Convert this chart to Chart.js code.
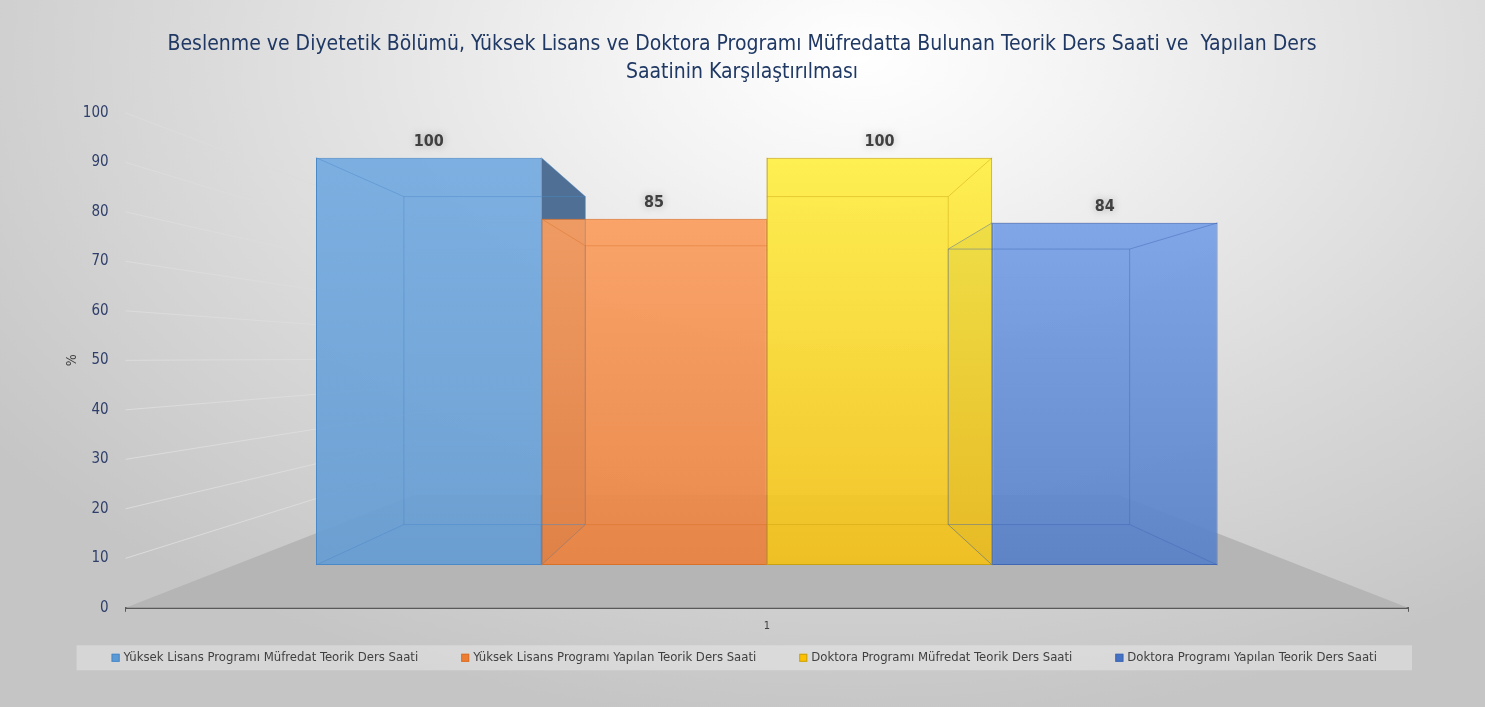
<!DOCTYPE html>
<html lang="tr">
<head>
<meta charset="utf-8">
<title>Teorik Ders Saati Karşılaştırması</title>
<script src="https://cdn.jsdelivr.net/npm/chart.js@4.4.1/dist/chart.umd.min.js"></script>
<style>
  html, body { margin: 0; padding: 0; }
  body {
    width: 1485px;
    height: 707px;
    overflow: hidden;
    background: radial-gradient(ellipse 72% 95% at 58% 8%, #ffffff 0%, #f3f3f3 22%, #dadada 62%, #c5c5c5 100%);
  }
  #kutu { position: relative; width: 1485px; height: 707px; }
</style>
</head>
<body>
<div id="kutu"><canvas id="grafik"></canvas></div>
<script>
// veriler
const kategoriler = ['1'];
const seriAdlari = [
  'Yüksek Lisans Programı Müfredat Teorik Ders Saati',
  'Yüksek Lisans Programı Yapılan Teorik Ders Saati',
  'Doktora Programı Müfredat Teorik Ders Saati',
  'Doktora Programı Yapılan Teorik Ders Saati'
];
const degerler = [100, 85, 100, 84];
const yEtiketleri = [0, 10, 20, 30, 40, 50, 60, 70, 80, 90, 100];
const baslik = [
  'Beslenme ve Diyetetik Bölümü, Yüksek Lisans ve Doktora Programı Müfredatta Bulunan Teorik Ders Saati ve  Yapılan Ders',
  'Saatinin Karşılaştırılması'
];

// stiller
const ustRenk = ['rgba(118,172,226,0.93)', 'rgba(255,166,104,0.93)', 'rgba(255,243,74,0.93)', 'rgba(130,170,240,0.93)'];
const altRenk = ['rgba(102,156,210,0.93)', 'rgba(232,128,62,0.93)', 'rgba(242,188,24,0.93)', 'rgba(86,126,196,0.93)'];
const kenarRenk = ['#4a88c8', '#d9702a', '#c9a212', '#3f67b4'];
const yanRenk = ['#47698f', '#a65622', '#b09a10', '#3a5c9c'];
const aciklamaRenk = ['#5b9bd5', '#ed7d31', '#ffc000', '#4472c4'];
const yazi = '"Liberation Sans Narrow", "DejaVu Sans Condensed", "Open Sans", sans-serif';
const DERINLIK = 0.195;
const ZEMIN = 0.45;

function kacis(chart) {
  const x = chart.scales.x;
  const y = chart.scales.y;
  return { x: (x.left + x.right) / 2, y: y.getPixelForValue(50) - 3 };
}

function geri(px, py, v, k) {
  return { x: px + (v.x - px) * k, y: py + (v.y - py) * k };
}

function cokgen(ctx, noktalar) {
  ctx.beginPath();
  ctx.moveTo(noktalar[0].x, noktalar[0].y);
  noktalar.slice(1).forEach((p) => ctx.lineTo(p.x, p.y));
  ctx.closePath();
}

function kutuKoseleri(chart, i) {
  const el = chart.getDatasetMeta(i).data[0];
  if (!el) return null;
  const { x, y, base, width } = el.getProps(['x', 'y', 'base', 'width'], true);
  const v = kacis(chart);
  const l = x - width / 2;
  const r = x + width / 2;
  return {
    x, l, r, t: y, b: base, v,
    btl: geri(l, y, v, DERINLIK),
    btr: geri(r, y, v, DERINLIK),
    bbl: geri(l, base, v, DERINLIK),
    bbr: geri(r, base, v, DERINLIK)
  };
}

// zemin, duvar çizgileri, kutuların yan yüzleri ve etiketler
const zeminEklentisi = {
  id: 'zemin',
  beforeDatasetsDraw(chart) {
    const { ctx, chartArea: a, scales: { y } } = chart;
    const v = kacis(chart);
    const solArka = geri(a.left, a.bottom, v, ZEMIN);
    const sagArka = geri(a.right, a.bottom, v, ZEMIN);
    ctx.save();
    ctx.fillStyle = '#b5b5b5';
    cokgen(ctx, [{ x: a.left, y: a.bottom }, { x: a.right, y: a.bottom }, sagArka, solArka]);
    ctx.fill();

    ctx.strokeStyle = '#dcdcdc';
    ctx.lineWidth = 1;
    y.ticks.forEach((t) => {
      if (t.value === 0) return;
      const py = y.getPixelForValue(t.value);
      const p = geri(a.left, py, v, ZEMIN);
      ctx.beginPath();
      ctx.moveTo(a.left, py);
      ctx.lineTo(p.x, p.y);
      ctx.lineTo(sagArka.x, p.y);
      ctx.stroke();
    });

    chart.data.datasets.forEach((ds, i) => {
      const k = kutuKoseleri(chart, i);
      if (!k) return;
      ctx.fillStyle = yanRenk[i];
      ctx.globalAlpha = 0.95;
      if (k.x < k.v.x) {
        cokgen(ctx, [{ x: k.r, y: k.t }, k.btr, k.bbr, { x: k.r, y: k.b }]);
      } else {
        cokgen(ctx, [{ x: k.l, y: k.t }, k.btl, k.bbl, { x: k.l, y: k.b }]);
      }
      ctx.fill();
      ctx.globalAlpha = 0.22;
      cokgen(ctx, [{ x: k.l, y: k.b }, { x: k.r, y: k.b }, k.bbr, k.bbl]);
      ctx.fill();
      ctx.globalAlpha = 1;
    });
    ctx.restore();
  },
  afterDatasetsDraw(chart) {
    const { ctx } = chart;
    ctx.save();
    chart.data.datasets.forEach((ds, i) => {
      const k = kutuKoseleri(chart, i);
      if (!k) return;
      ctx.strokeStyle = kenarRenk[i];
      ctx.globalAlpha = 0.45;
      ctx.lineWidth = 1;
      cokgen(ctx, [k.btl, k.btr, k.bbr, k.bbl]);
      ctx.stroke();
      ctx.beginPath();
      ctx.moveTo(k.l, k.t); ctx.lineTo(k.btl.x, k.btl.y);
      ctx.moveTo(k.r, k.t); ctx.lineTo(k.btr.x, k.btr.y);
      ctx.moveTo(k.l, k.b); ctx.lineTo(k.bbl.x, k.bbl.y);
      ctx.moveTo(k.r, k.b); ctx.lineTo(k.bbr.x, k.bbr.y);
      ctx.stroke();
      ctx.globalAlpha = 1;

      // veri etiketi
      ctx.font = 'bold 16px ' + yazi;
      ctx.textAlign = 'center';
      ctx.textBaseline = 'middle';
      ctx.shadowColor = 'rgba(0,0,0,0.28)';
      ctx.shadowBlur = 9;
      ctx.fillStyle = '#404040';
      ctx.fillText(String(ds.data[0]), k.x, k.t - 16);
      ctx.shadowBlur = 0;
      ctx.shadowColor = 'transparent';
    });
    ctx.restore();
  }
};

// alttaki açıklama şeridi
const aciklamaEklentisi = {
  id: 'aciklama',
  afterDraw(chart) {
    const { ctx, chartArea: a } = chart;
    const ortaY = a.bottom + 50;
    const bandSol = a.left - 49;
    const bandSag = a.right + 4;
    ctx.save();
    ctx.fillStyle = 'rgba(255,255,255,0.3)';
    ctx.fillRect(bandSol, ortaY - 12.5, bandSag - bandSol, 25);

    ctx.font = '13px ' + yazi;
    ctx.textBaseline = 'middle';
    ctx.textAlign = 'left';
    const KUTU = 8, ARA = 4, BOSLUK = 43;
    const genislik = seriAdlari.map((t) => ctx.measureText(t).width);
    const toplam = genislik.reduce((s, w) => s + KUTU + ARA + w, 0) + BOSLUK * (seriAdlari.length - 1);
    let x = (bandSol + bandSag) / 2 - toplam / 2;
    seriAdlari.forEach((t, i) => {
      ctx.fillStyle = aciklamaRenk[i];
      ctx.fillRect(x, ortaY - KUTU / 2, KUTU, KUTU);
      ctx.strokeStyle = kenarRenk[i];
      ctx.lineWidth = 1;
      ctx.strokeRect(x + 0.5, ortaY - KUTU / 2 + 0.5, KUTU - 1, KUTU - 1);
      ctx.fillStyle = '#404040';
      ctx.fillText(t, x + KUTU + ARA, ortaY);
      x += KUTU + ARA + genislik[i] + BOSLUK;
    });
    ctx.restore();
  }
};

function dolgu(i) {
  return (context) => {
    const { chart } = context;
    const a = chart.chartArea;
    if (!a) return ustRenk[i];
    const g = chart.ctx.createLinearGradient(0, a.top, 0, a.bottom);
    g.addColorStop(0, ustRenk[i]);
    g.addColorStop(1, altRenk[i]);
    return g;
  };
}

new Chart(document.getElementById('grafik'), {
  type: 'bar',
  data: {
    labels: kategoriler,
    datasets: seriAdlari.map((ad, i) => ({
      label: ad,
      data: [degerler[i]],
      yAxisID: 'yb',
      backgroundColor: dolgu(i),
      borderColor: kenarRenk[i],
      borderWidth: 1,
      borderSkipped: false,
      categoryPercentage: 0.703,
      barPercentage: 1
    }))
  },
  options: {
    responsive: true,
    maintainAspectRatio: false,
    animation: false,
    layout: { padding: { left: 76, right: 77, top: 0, bottom: 66 } },
    plugins: {
      title: {
        display: true,
        text: baslik,
        color: '#1f3864',
        font: { family: yazi, size: 21, weight: 'normal', lineHeight: 1.33 },
        padding: { top: 31, bottom: 26 }
      },
      legend: { display: false },
      tooltip: { enabled: false }
    },
    scales: {
      x: {
        offset: true,
        grid: { display: true, drawOnChartArea: false, drawTicks: true, tickLength: 4, color: '#595959', offset: true },
        border: { display: true, color: '#595959', width: 2 },
        ticks: { color: '#404040', font: { family: yazi, size: 11 }, padding: 8 }
      },
      y: {
        min: 0,
        max: 100,
        afterBuildTicks(axis) {
          axis.ticks = yEtiketleri.map((v) => ({ value: v }));
        },
        grid: { display: false, drawTicks: false },
        border: { display: false },
        ticks: { color: '#2f3f6b', font: { family: yazi, size: 15 }, padding: 17 },
        title: { display: true, text: '%', color: '#404040', font: { family: yazi, size: 14 }, padding: { top: -12, bottom: -15 } }
      },
      yb: {
        display: false,
        min: -10.5,
        max: 111
      }
    }
  },
  plugins: [zeminEklentisi, aciklamaEklentisi]
});
</script>
</body>
</html>
